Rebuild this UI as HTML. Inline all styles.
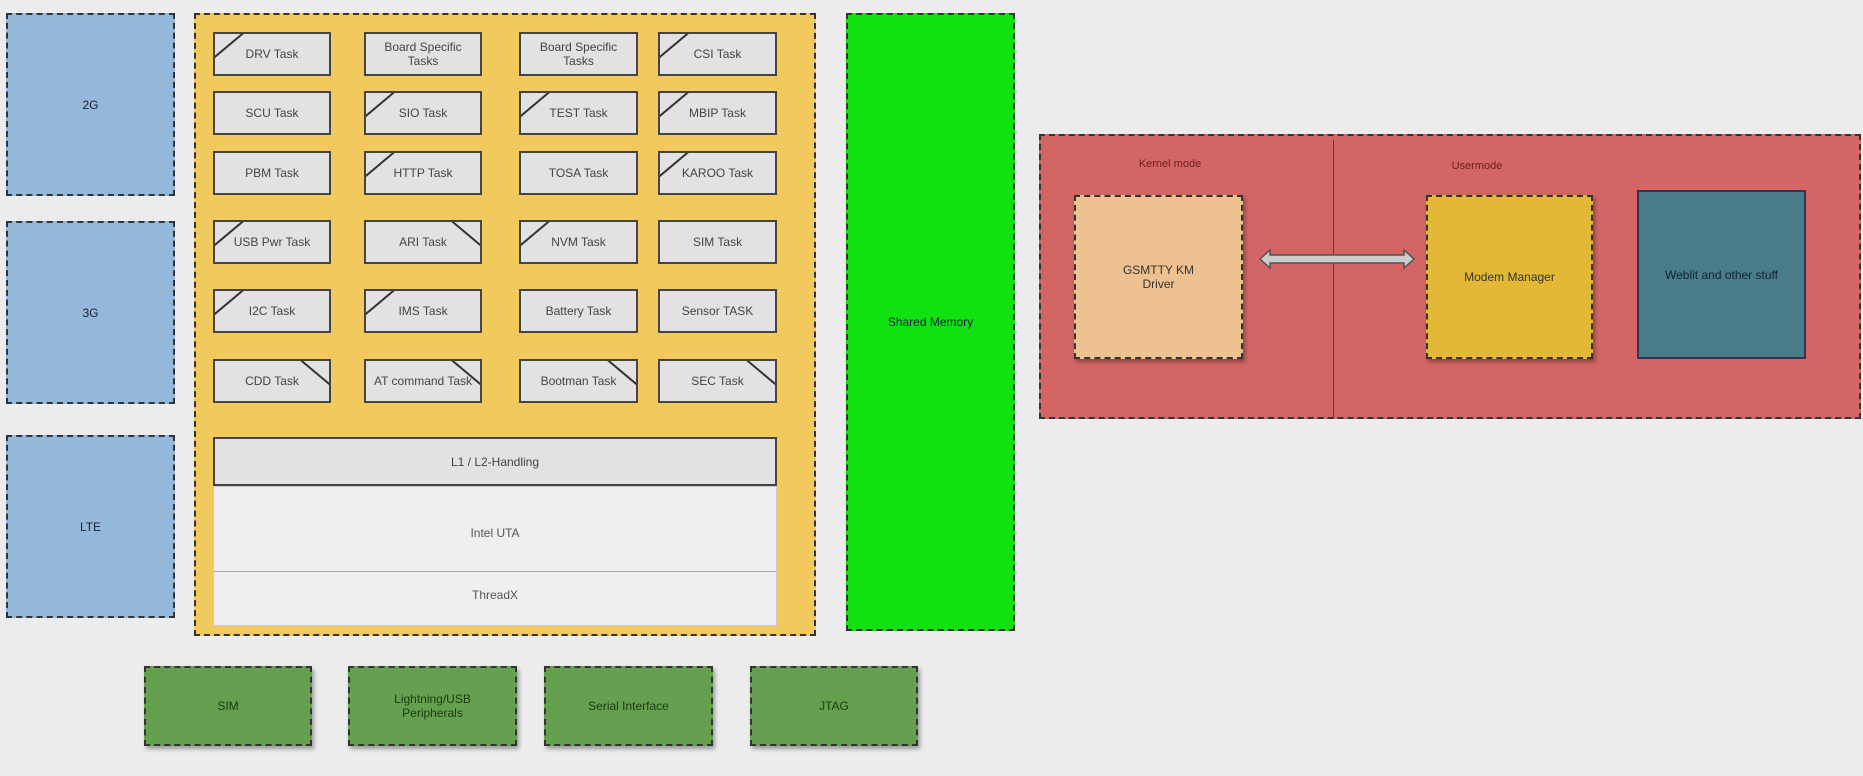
<!DOCTYPE html>
<html><head><meta charset="utf-8"><style>
body{margin:0;width:1863px;height:776px;background:#ececec;position:relative;overflow:hidden;font-family:"Liberation Sans",sans-serif;}
.b{position:absolute;box-sizing:border-box;display:flex;align-items:center;justify-content:center;text-align:center;font-size:12px;color:#333;}
.d{border:2px dashed #333;}
.blue{background:#93b8da;color:#223;}
.t{background:#e2e2e2;border:2px solid #444;font-size:12px;color:#444;overflow:hidden;line-height:14px;}
.g2{background:#65a050;color:#1a3a10;box-shadow:2px 3px 4px rgba(0,0,0,.35);}
.t::before{content:"";position:absolute;width:40px;height:1.5px;background:#333;}
.tl::before{left:-6px;top:10px;transform:rotate(-40deg);}
.tr::before{right:-6px;top:10px;transform:rotate(40deg);}
.t:not(.tl):not(.tr)::before{display:none;}
</style></head><body>
<div class="b d blue" style="left:6px;top:13px;width:169px;height:183px;">2G</div>
<div class="b d blue" style="left:6px;top:221px;width:169px;height:183px;">3G</div>
<div class="b d blue" style="left:6px;top:435px;width:169px;height:183px;">LTE</div>

<div class="b d" style="left:194px;top:13px;width:622px;height:623px;background:#f2c95c;"></div>

<div class="b t tl" style="left:213px;top:32px;width:118px;height:44px;">DRV Task</div>
<div class="b t" style="left:364px;top:32px;width:118px;height:44px;">Board Specific<br>Tasks</div>
<div class="b t" style="left:519px;top:32px;width:119px;height:44px;">Board Specific<br>Tasks</div>
<div class="b t tl" style="left:658px;top:32px;width:119px;height:44px;">CSI Task</div>

<div class="b t" style="left:213px;top:91px;width:118px;height:44px;">SCU Task</div>
<div class="b t tl" style="left:364px;top:91px;width:118px;height:44px;">SIO Task</div>
<div class="b t tl" style="left:519px;top:91px;width:119px;height:44px;">TEST Task</div>
<div class="b t tl" style="left:658px;top:91px;width:119px;height:44px;">MBIP Task</div>

<div class="b t" style="left:213px;top:151px;width:118px;height:44px;">PBM Task</div>
<div class="b t tl" style="left:364px;top:151px;width:118px;height:44px;">HTTP Task</div>
<div class="b t" style="left:519px;top:151px;width:119px;height:44px;">TOSA Task</div>
<div class="b t tl" style="left:658px;top:151px;width:119px;height:44px;">KAROO Task</div>

<div class="b t tl" style="left:213px;top:220px;width:118px;height:44px;">USB Pwr Task</div>
<div class="b t tr" style="left:364px;top:220px;width:118px;height:44px;">ARI Task</div>
<div class="b t tl" style="left:519px;top:220px;width:119px;height:44px;">NVM Task</div>
<div class="b t" style="left:658px;top:220px;width:119px;height:44px;">SIM Task</div>

<div class="b t tl" style="left:213px;top:289px;width:118px;height:44px;">I2C Task</div>
<div class="b t tl" style="left:364px;top:289px;width:118px;height:44px;">IMS Task</div>
<div class="b t" style="left:519px;top:289px;width:119px;height:44px;">Battery Task</div>
<div class="b t" style="left:658px;top:289px;width:119px;height:44px;">Sensor TASK</div>

<div class="b t tr" style="left:213px;top:359px;width:118px;height:44px;">CDD Task</div>
<div class="b t tr" style="left:364px;top:359px;width:118px;height:44px;">AT command Task</div>
<div class="b t tr" style="left:519px;top:359px;width:119px;height:44px;">Bootman Task</div>
<div class="b t tr" style="left:658px;top:359px;width:119px;height:44px;">SEC Task</div>

<div class="b" style="left:213px;top:486px;width:564px;height:140px;background:#efefef;border:1px solid #ccc;"></div>
<div class="b" style="left:213px;top:437px;width:564px;height:49px;background:#e2e2e2;border:2px solid #444;color:#444;">L1 / L2-Handling</div>
<div class="b" style="left:213px;top:518px;width:564px;height:30px;color:#555;">Intel UTA</div>
<div style="position:absolute;left:214px;top:571px;width:562px;height:1px;background:#aaa;"></div>
<div class="b" style="left:213px;top:581px;width:564px;height:28px;color:#555;">ThreadX</div>

<div class="b d" style="left:846px;top:13px;width:169px;height:618px;background:#11e011;color:#124;">Shared Memory</div>

<div class="b d g2" style="left:144px;top:666px;width:168px;height:80px;">SIM</div>
<div class="b d g2" style="left:348px;top:666px;width:169px;height:80px;">Lightning/USB<br>Peripherals</div>
<div class="b d g2" style="left:544px;top:666px;width:169px;height:80px;">Serial Interface</div>
<div class="b d g2" style="left:750px;top:666px;width:168px;height:80px;">JTAG</div>

<div class="b d" style="left:1039px;top:134px;width:822px;height:285px;background:#d46565;"></div>
<div style="position:absolute;left:1333px;top:140px;width:1px;height:279px;background:#444;"></div>
<div class="b" style="left:1110px;top:156px;width:120px;height:16px;font-size:11px;color:#6a2020;">Kernel mode</div>
<div class="b" style="left:1417px;top:158px;width:120px;height:16px;font-size:11px;color:#6a2020;">Usermode</div>
<div class="b d" style="left:1074px;top:195px;width:169px;height:164px;background:#eec190;color:#333;box-shadow:2px 3px 4px rgba(0,0,0,.35);">GSMTTY KM<br>Driver</div>
<div class="b d" style="left:1426px;top:195px;width:167px;height:164px;background:#e2b836;color:#333;box-shadow:2px 3px 4px rgba(0,0,0,.35);">Modem Manager</div>
<div class="b" style="left:1637px;top:190px;width:169px;height:169px;background:#477c88;border:2px solid #335;color:#123;">Weblit and other stuff</div>
<svg style="position:absolute;left:1258px;top:248px" width="158" height="22">
<polygon points="2,11 12,2 12,7 146,7 146,2 156,11 146,20 146,15 12,15 12,20" fill="#ccc" stroke="#555" stroke-width="1.5"/>
</svg>
</body></html>
